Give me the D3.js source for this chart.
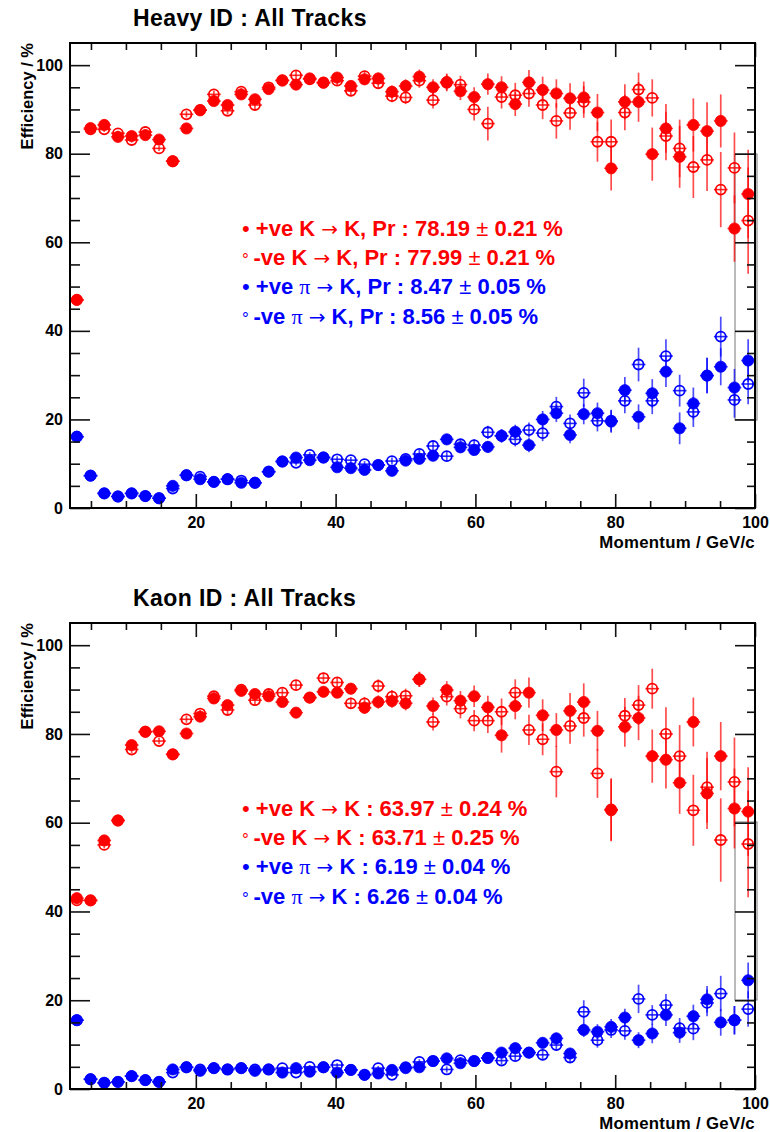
<!DOCTYPE html>
<html><head><meta charset="utf-8">
<script src="https://cdn.jsdelivr.net/npm/d3@7"></script>
<style>body{margin:0;background:#fff}svg{display:block}</style>
</head><body>
<svg id="c" width="770" height="1132"></svg>
<script>
// ---- data ----
const momentum = [2.98,4.94,6.90,8.86,10.82,12.78,14.74,16.70,18.66,20.62,22.58,24.54,26.50,28.46,30.42,32.38,34.34,36.30,38.26,40.22,42.18,44.14,46.10,48.06,50.02,51.98,53.94,55.90,57.86,59.82,61.78,63.74,65.70,67.66,69.62,71.58,73.54,75.50,77.46,79.42,81.38,83.34,85.30,87.26,89.22,91.18,93.14,95.10,97.06,99.02];
const binHalfWidth = 0.98;

const heavyKPos = [47.0,85.8,86.5,83.8,84.0,84.2,83.2,78.3,85.7,89.8,91.9,91.0,93.4,92.3,94.6,96.5,95.6,97.0,96.0,97.2,95.3,96.8,97.0,94.0,95.3,97.4,95.0,96.2,94.1,92.8,95.7,95.0,91.2,96.1,94.4,93.6,92.5,92.7,89.3,76.7,91.7,91.7,79.9,85.7,79.3,86.5,85.1,87.4,63.1,70.9];
const heavyKPosErr = [0.8,0.6,0.6,0.6,0.6,0.6,0.6,0.7,0.7,0.7,0.8,0.8,0.8,0.9,0.9,0.9,1.0,1.0,1.0,1.1,1.2,1.2,1.3,1.4,1.5,1.6,1.8,1.9,2.0,2.2,2.4,2.5,2.7,2.8,3.0,3.2,3.4,3.6,4.2,5.0,4.0,4.5,6.0,5.5,7.0,6.0,6.5,6.0,7.5,10.0];
const heavyKNeg = [47.0,85.5,85.5,84.6,83.1,84.9,81.2,78.3,88.9,89.9,93.4,89.7,94.0,91.0,95.0,96.6,97.7,96.8,96.1,96.5,94.2,97.5,95.9,93.0,92.7,96.5,92.1,96.0,95.6,90.0,86.8,92.8,93.2,93.6,91.0,87.4,89.2,91.7,82.7,82.7,89.3,94.5,92.6,84.0,81.2,77.0,78.6,71.9,76.8,64.9];
const heavyKNegErr = [0.8,0.6,0.6,0.6,0.6,0.6,0.6,0.7,0.7,0.7,0.8,0.8,0.8,0.9,0.9,0.9,1.0,1.0,1.0,1.1,1.2,1.2,1.3,1.4,1.5,1.6,1.9,1.9,2.0,2.5,3.8,2.6,2.8,3.0,3.2,4.0,3.8,3.6,4.5,5.0,4.0,3.8,4.2,5.5,6.5,7.0,7.0,8.5,8.0,12.0];
const heavyPiPos = [16.1,7.3,3.3,2.6,3.3,2.7,2.2,5.0,7.4,6.5,5.9,6.5,5.7,5.7,8.2,10.5,11.4,10.8,11.4,9.2,9.0,8.6,9.7,8.4,10.7,11.1,11.8,15.5,13.7,13.1,13.8,16.3,17.2,14.2,20.0,21.4,16.5,21.2,21.4,19.5,26.6,20.6,25.9,30.8,18.0,23.6,29.9,31.9,27.2,33.3];
const heavyPiPosErr = [0.4,0.3,0.2,0.2,0.2,0.2,0.2,0.3,0.3,0.3,0.4,0.4,0.4,0.4,0.5,0.6,0.6,0.6,0.7,0.7,0.7,0.7,0.8,0.8,0.9,1.0,1.0,1.2,1.2,1.2,1.3,1.5,1.6,1.6,1.9,2.0,1.9,2.3,2.4,2.5,3.0,2.8,3.2,3.5,3.6,3.6,4.0,4.2,4.2,4.8];
const heavyPiNeg = [16.1,7.3,3.3,2.6,3.3,2.7,2.2,4.4,7.4,7.1,5.9,6.5,6.2,5.7,8.2,10.5,10.2,12.0,11.4,11.0,10.8,9.9,9.7,10.6,11.1,12.2,14.0,11.7,14.4,14.2,17.1,16.3,15.5,17.6,16.9,22.9,19.1,26.0,19.7,19.7,24.2,32.4,24.2,34.3,26.5,21.7,29.9,38.7,24.4,28.0];
const heavyPiNegErr = [0.4,0.3,0.2,0.2,0.2,0.2,0.2,0.3,0.3,0.3,0.4,0.4,0.4,0.4,0.5,0.6,0.6,0.6,0.7,0.7,0.7,0.7,0.8,0.8,0.9,1.0,1.1,1.1,1.2,1.3,1.5,1.5,1.6,1.7,1.8,2.2,2.0,3.2,2.4,2.5,2.8,3.8,3.0,3.8,3.6,3.4,4.0,4.5,4.0,4.6];

const kaonKPos = [43.0,42.5,56.0,60.5,77.5,80.5,80.6,75.4,80.1,83.9,88.0,86.5,89.7,89.0,88.5,87.2,84.8,88.2,89.5,89.3,90.2,85.9,87.2,87.4,86.9,92.3,86.3,89.9,87.5,88.5,86.0,79.7,86.3,89.3,84.2,80.9,85.2,87.2,80.7,62.8,81.6,83.6,75.0,74.2,69.0,82.7,66.6,75.0,63.2,62.5];
const kaonKPosErr = [0.8,0.8,0.8,0.8,0.8,0.7,0.7,0.8,0.8,0.8,0.9,0.9,0.9,1.0,1.0,1.0,1.1,1.1,1.2,1.2,1.3,1.4,1.5,1.5,1.6,1.7,1.9,2.0,2.2,2.4,2.6,3.9,3.0,3.4,3.6,3.8,4.0,4.2,4.5,7.0,4.5,5.0,6.0,6.5,7.0,5.5,8.0,7.7,9.0,10.0];
const kaonKNeg = [42.5,42.5,55.0,60.5,76.5,80.5,78.4,75.4,83.3,84.6,88.5,85.4,90.0,87.6,89.0,89.3,91.0,88.2,92.6,91.6,86.9,86.9,90.8,88.4,88.6,92.3,82.7,88.4,85.7,83.0,83.0,85.0,89.3,80.9,78.8,71.5,81.8,83.6,71.1,63.0,84.1,86.5,90.2,80.0,75.0,62.8,68.0,56.1,69.2,55.2];
const kaonKNegErr = [0.8,0.8,0.8,0.8,0.8,0.7,0.7,0.8,0.8,0.8,0.9,0.9,0.9,1.0,1.0,1.0,1.1,1.1,1.2,1.2,1.3,1.4,1.5,1.5,1.6,1.7,1.9,2.0,2.2,2.4,2.8,3.0,3.0,3.4,3.6,5.8,4.0,4.2,5.5,7.0,4.0,4.5,4.5,6.0,7.0,8.0,8.0,9.4,10.0,12.0];
const kaonPiPos = [15.5,2.2,1.4,1.6,2.9,2.0,1.6,4.4,4.9,4.1,4.7,4.4,4.7,4.1,4.4,3.7,4.7,3.9,4.9,3.7,4.3,3.2,3.5,4.3,4.7,4.9,6.3,6.9,5.8,6.3,7.0,8.2,9.2,8.2,10.4,11.4,8.0,13.3,12.9,14.0,16.1,11.0,12.5,16.7,12.7,16.4,20.2,15.0,15.5,24.5];
const kaonPiPosErr = [0.4,0.2,0.2,0.2,0.2,0.2,0.2,0.3,0.3,0.3,0.3,0.3,0.3,0.3,0.3,0.3,0.4,0.4,0.4,0.4,0.4,0.4,0.5,0.5,0.5,0.6,0.6,0.7,0.7,0.8,0.8,0.9,1.0,1.0,1.2,1.3,1.2,1.6,1.7,1.8,2.0,1.8,2.2,2.5,2.3,2.6,3.0,3.0,3.2,4.0];
const kaonPiNeg = [15.5,2.2,1.4,1.6,2.9,2.0,1.6,3.7,4.9,4.4,4.7,4.4,4.7,4.4,4.4,4.7,3.7,5.0,4.9,5.4,4.3,3.2,4.7,3.2,4.9,6.1,6.3,4.4,6.5,6.3,7.0,6.4,7.4,8.2,7.7,9.9,7.1,17.4,11.0,13.3,13.1,20.3,16.7,18.9,13.7,13.6,19.4,21.5,15.5,18.0];
const kaonPiNegErr = [0.4,0.2,0.2,0.2,0.2,0.2,0.2,0.3,0.3,0.3,0.3,0.3,0.3,0.3,0.3,0.3,0.4,0.4,0.4,0.4,0.4,0.4,0.5,0.5,0.5,0.6,0.6,0.7,0.7,0.8,0.8,0.9,1.0,1.0,1.2,1.3,1.2,2.6,1.7,1.8,2.0,3.2,2.2,2.5,2.3,2.6,3.0,4.0,3.2,4.0];

const xMajorTicks = [20,40,60,80,100];
const xMinorTicks = [5,10,15,25,30,35,45,50,55,65,70,75,85,90,95];
const yMajorTicks = [0,20,40,60,80,100];
const yMinorTicks = [5,10,15,25,30,35,45,50,55,65,70,75,85,90,95];

const heavyLegend = [
  {sym:"•", pre:"+ve K ", arrow:"→", post:" K, Pr : 78.19 ± 0.21 %", color:"#ff0000"},
  {sym:"°", pre:"-ve K ", arrow:"→", post:" K, Pr : 77.99 ± 0.21 %", color:"#ff0000"},
  {sym:"•", pre:"+ve π ", arrow:"→", post:" K, Pr : 8.47 ± 0.05 %", color:"#0000ff"},
  {sym:"°", pre:"-ve π ", arrow:"→", post:" K, Pr : 8.56 ± 0.05 %", color:"#0000ff"}
];
const kaonLegend = [
  {sym:"•", pre:"+ve K ", arrow:"→", post:" K : 63.97 ± 0.24 %", color:"#ff0000"},
  {sym:"°", pre:"-ve K ", arrow:"→", post:" K : 63.71 ± 0.25 %", color:"#ff0000"},
  {sym:"•", pre:"+ve π ", arrow:"→", post:" K : 6.19 ± 0.04 %", color:"#0000ff"},
  {sym:"°", pre:"-ve π ", arrow:"→", post:" K : 6.26 ± 0.04 %", color:"#0000ff"}
];

// ---- drawing ----
const svg = d3.select("#c");
svg.append("rect").attr("width",770).attr("height",1132).attr("fill","#fff");
const FONT = "'Liberation Sans', Arial, Helvetica, sans-serif";

function drawPanel(cfg){
  const top = cfg.top, bottom = cfg.bottom;
  const x = d3.scaleLinear().domain([2,100]).range([70,755]);
  const y = d3.scaleLinear().domain([0,105]).range([bottom, top]);
  const g = svg.append("g");

  // title
  g.append("text").attr("x",133).attr("y",top-17).attr("font-family",FONT)
   .attr("font-weight","bold").attr("font-size",23).attr("letter-spacing","0.4px").text(cfg.title);

  // stats box edge on the right
  g.append("rect").attr("x",735).attr("y",cfg.boxTop).attr("width",22).attr("height",cfg.boxBottom-cfg.boxTop)
   .attr("fill","none").attr("stroke","#777").attr("stroke-width",1);

  // series
  cfg.series.forEach(s=>{
    const sg = g.append("g");
    const pts = momentum.map((m,i)=>({m, v:s.values[i], e:s.errors[i]}));
    sg.selectAll("line.ey").data(pts).join("line")
      .attr("x1",d=>x(d.m)).attr("x2",d=>x(d.m))
      .attr("y1",d=>y(Math.max(0,d.v-d.e))).attr("y2",d=>y(Math.min(105,d.v+d.e)))
      .attr("stroke",s.color).attr("stroke-width",1.7).attr("stroke-opacity",0.7);
    sg.selectAll("line.ex").data(pts).join("line")
      .attr("x1",d=>x(Math.max(2,d.m-binHalfWidth))).attr("x2",d=>x(d.m+binHalfWidth))
      .attr("y1",d=>y(d.v)).attr("y2",d=>y(d.v))
      .attr("stroke",s.color).attr("stroke-width",1.6).attr("stroke-opacity",0.85);
    sg.selectAll("circle").data(pts).join("circle")
      .attr("cx",d=>x(d.m)).attr("cy",d=>y(d.v))
      .attr("r", s.filled?5.6:5.0)
      .attr("fill", s.filled?s.color:"none")
      .attr("stroke", s.color).attr("stroke-width", s.filled?0.8:1.8);
  });

  // axes
  const tickStyle = sel=>{ sel.select(".domain").remove(); sel.selectAll("line").attr("stroke","#111").attr("stroke-width",1.6); };
  const labStyle = sel=>sel.selectAll("text").attr("font-family",FONT).attr("font-weight","bold").attr("font-size",16).attr("fill","#000");

  g.append("g").attr("transform",`translate(0,${bottom})`)
    .call(d3.axisBottom(x).tickValues(xMajorTicks).tickSizeInner(-14).tickSizeOuter(0).tickPadding(9).tickFormat(d3.format("d")))
    .call(tickStyle).call(labStyle);
  g.append("g").attr("transform",`translate(0,${bottom})`)
    .call(d3.axisBottom(x).tickValues(xMinorTicks).tickSizeInner(-7).tickSizeOuter(0).tickFormat(""))
    .call(tickStyle);
  g.append("g").attr("transform",`translate(0,${top})`)
    .call(d3.axisTop(x).tickValues(xMajorTicks).tickSizeInner(-14).tickSizeOuter(0).tickFormat(""))
    .call(tickStyle);
  g.append("g").attr("transform",`translate(0,${top})`)
    .call(d3.axisTop(x).tickValues(xMinorTicks).tickSizeInner(-7).tickSizeOuter(0).tickFormat(""))
    .call(tickStyle);
  g.append("g").attr("transform",`translate(70,0)`)
    .call(d3.axisLeft(y).tickValues(yMajorTicks).tickSizeInner(-20).tickSizeOuter(0).tickPadding(7).tickFormat(d3.format("d")))
    .call(tickStyle).call(labStyle);
  g.append("g").attr("transform",`translate(70,0)`)
    .call(d3.axisLeft(y).tickValues(yMinorTicks).tickSizeInner(-10).tickSizeOuter(0).tickFormat(""))
    .call(tickStyle);
  g.append("g").attr("transform",`translate(755,0)`)
    .call(d3.axisRight(y).tickValues(yMajorTicks).tickSizeInner(-20).tickSizeOuter(0).tickFormat(""))
    .call(tickStyle);
  g.append("g").attr("transform",`translate(755,0)`)
    .call(d3.axisRight(y).tickValues(yMinorTicks).tickSizeInner(-8).tickSizeOuter(0).tickFormat(""))
    .call(tickStyle);

  // frame
  g.append("rect").attr("x",70).attr("y",top).attr("width",685).attr("height",bottom-top)
   .attr("fill","none").attr("stroke","#000").attr("stroke-width",2);

  // axis titles
  g.append("text").attr("x",755).attr("y",bottom+39.5).attr("text-anchor","end")
   .attr("font-family",FONT).attr("font-weight","bold").attr("font-size",16.8).attr("letter-spacing","0.3px").text("Momentum / GeV/c");
  g.append("text").attr("transform",`translate(33,${top}) rotate(-90)`).attr("text-anchor","end")
   .attr("font-family",FONT).attr("font-weight","bold").attr("font-size",16.5).text("Efficiency / %");

  // legend
  cfg.legend.forEach((l,i)=>{
    const t = g.append("text").attr("x",242).attr("y",top+193+i*29.2)
      .attr("font-family",FONT).attr("font-weight","bold").attr("font-size",22).attr("fill",l.color);
    t.append("tspan").attr("font-size", l.sym==="•"?22:17).attr("font-weight","normal").text(l.sym+" ");
    l.pre.split(/(π)/).forEach(p=>{
      if(p==="π") t.append("tspan").attr("font-family","'Liberation Serif', serif").attr("font-weight","normal").text("π");
      else if(p) t.append("tspan").text(p);
    });
    t.append("tspan").attr("font-family","'DejaVu Sans', sans-serif").attr("font-weight","normal").attr("font-size",20).text(l.arrow);
    l.post.split(/(±)/).forEach(p=>{
      if(p==="±") t.append("tspan").attr("font-weight","normal").text("±");
      else if(p) t.append("tspan").text(p);
    });
  });
}

drawPanel({title:"Heavy ID : All Tracks", top:43, bottom:508, boxTop:154, boxBottom:420,
  legend:heavyLegend,
  series:[
    {values:heavyKPos, errors:heavyKPosErr, color:"#ff0000", filled:true},
    {values:heavyKNeg, errors:heavyKNegErr, color:"#ff0000", filled:false},
    {values:heavyPiPos, errors:heavyPiPosErr, color:"#0000ff", filled:true},
    {values:heavyPiNeg, errors:heavyPiNegErr, color:"#0000ff", filled:false}
  ]});
drawPanel({title:"Kaon ID : All Tracks", top:623, bottom:1089, boxTop:822, boxBottom:1000,
  legend:kaonLegend,
  series:[
    {values:kaonKPos, errors:kaonKPosErr, color:"#ff0000", filled:true},
    {values:kaonKNeg, errors:kaonKNegErr, color:"#ff0000", filled:false},
    {values:kaonPiPos, errors:kaonPiPosErr, color:"#0000ff", filled:true},
    {values:kaonPiNeg, errors:kaonPiNegErr, color:"#0000ff", filled:false}
  ]});
</script>
</body></html>
